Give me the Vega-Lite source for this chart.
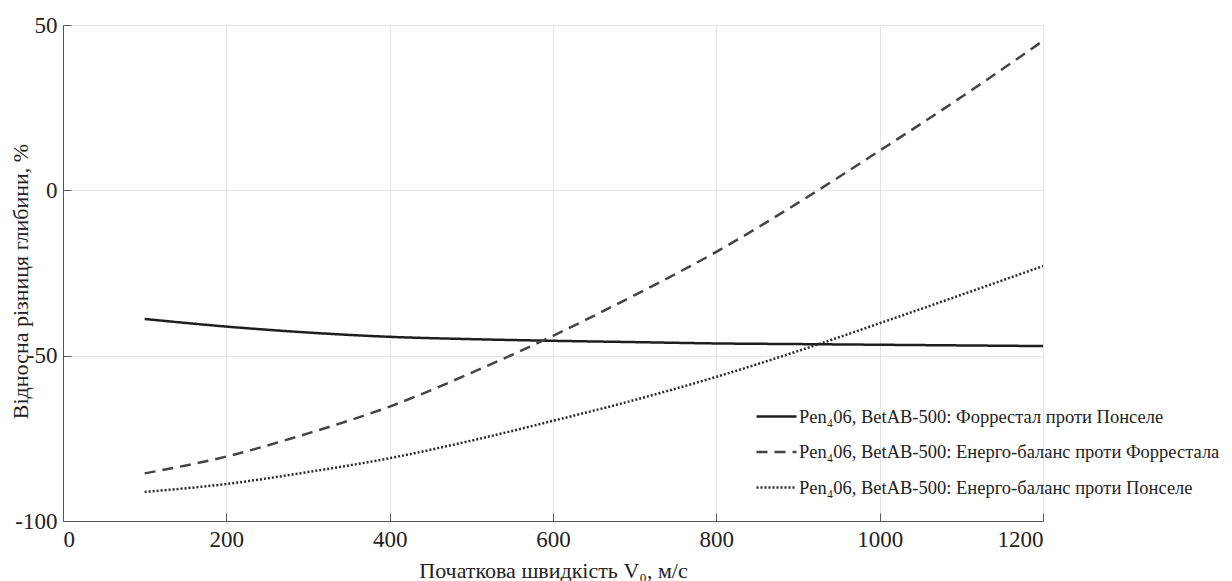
{
  "$schema": "https://vega.github.io/schema/vega-lite/v6.json",
  "width": 980,
  "height": 496,
  "autosize": {"type": "none"},
  "padding": {"left": 63, "top": 25, "right": 189, "bottom": 60},
  "background": "white",
  "config": {
    "view": {"stroke": null},
    "font": "Liberation Serif"
  },
  "data": {
    "values": [
      {"s": "Pen₄06, BetAB-500: Форрестал проти Понселе", "v": 100, "d": -38.9},
      {"s": "Pen₄06, BetAB-500: Форрестал проти Понселе", "v": 200, "d": -41.2},
      {"s": "Pen₄06, BetAB-500: Форрестал проти Понселе", "v": 300, "d": -43.0},
      {"s": "Pen₄06, BetAB-500: Форрестал проти Понселе", "v": 400, "d": -44.3},
      {"s": "Pen₄06, BetAB-500: Форрестал проти Понселе", "v": 500, "d": -45.0},
      {"s": "Pen₄06, BetAB-500: Форрестал проти Понселе", "v": 600, "d": -45.5},
      {"s": "Pen₄06, BetAB-500: Форрестал проти Понселе", "v": 700, "d": -45.9},
      {"s": "Pen₄06, BetAB-500: Форрестал проти Понселе", "v": 800, "d": -46.3},
      {"s": "Pen₄06, BetAB-500: Форрестал проти Понселе", "v": 900, "d": -46.5},
      {"s": "Pen₄06, BetAB-500: Форрестал проти Понселе", "v": 1000, "d": -46.7},
      {"s": "Pen₄06, BetAB-500: Форрестал проти Понселе", "v": 1100, "d": -46.9},
      {"s": "Pen₄06, BetAB-500: Форрестал проти Понселе", "v": 1200, "d": -47.1},
      {"s": "Pen₄06, BetAB-500: Енерго-баланс проти Форрестала", "v": 100, "d": -85.6},
      {"s": "Pen₄06, BetAB-500: Енерго-баланс проти Форрестала", "v": 200, "d": -80.5},
      {"s": "Pen₄06, BetAB-500: Енерго-баланс проти Форрестала", "v": 300, "d": -73.5},
      {"s": "Pen₄06, BetAB-500: Енерго-баланс проти Форрестала", "v": 400, "d": -65.4},
      {"s": "Pen₄06, BetAB-500: Енерго-баланс проти Форрестала", "v": 500, "d": -55.2},
      {"s": "Pen₄06, BetAB-500: Енерго-баланс проти Форрестала", "v": 600, "d": -44.0},
      {"s": "Pen₄06, BetAB-500: Енерго-баланс проти Форрестала", "v": 700, "d": -31.7},
      {"s": "Pen₄06, BetAB-500: Енерго-баланс проти Форрестала", "v": 800, "d": -18.6},
      {"s": "Pen₄06, BetAB-500: Енерго-баланс проти Форрестала", "v": 900, "d": -3.8},
      {"s": "Pen₄06, BetAB-500: Енерго-баланс проти Форрестала", "v": 1000, "d": 12.0},
      {"s": "Pen₄06, BetAB-500: Енерго-баланс проти Форрестала", "v": 1100, "d": 28.2},
      {"s": "Pen₄06, BetAB-500: Енерго-баланс проти Форрестала", "v": 1200, "d": 45.2},
      {"s": "Pen₄06, BetAB-500: Енерго-баланс проти Понселе", "v": 100, "d": -91.2},
      {"s": "Pen₄06, BetAB-500: Енерго-баланс проти Понселе", "v": 200, "d": -88.8},
      {"s": "Pen₄06, BetAB-500: Енерго-баланс проти Понселе", "v": 300, "d": -85.2},
      {"s": "Pen₄06, BetAB-500: Енерго-баланс проти Понселе", "v": 400, "d": -81.0},
      {"s": "Pen₄06, BetAB-500: Енерго-баланс проти Понселе", "v": 500, "d": -75.7},
      {"s": "Pen₄06, BetAB-500: Енерго-баланс проти Понселе", "v": 600, "d": -69.7},
      {"s": "Pen₄06, BetAB-500: Енерго-баланс проти Понселе", "v": 700, "d": -63.4},
      {"s": "Pen₄06, BetAB-500: Енерго-баланс проти Понселе", "v": 800, "d": -56.4},
      {"s": "Pen₄06, BetAB-500: Енерго-баланс проти Понселе", "v": 900, "d": -48.6},
      {"s": "Pen₄06, BetAB-500: Енерго-баланс проти Понселе", "v": 1000, "d": -40.2},
      {"s": "Pen₄06, BetAB-500: Енерго-баланс проти Понселе", "v": 1100, "d": -31.6},
      {"s": "Pen₄06, BetAB-500: Енерго-баланс проти Понселе", "v": 1200, "d": -22.9}
    ]
  },
  "mark": {"type": "line", "interpolate": "monotone", "strokeWidth": 2.5, "clip": true},
  "encoding": {
    "x": {
      "field": "v", "type": "quantitative",
      "scale": {"domain": [0, 1200], "nice": false, "zero": false},
      "axis": {
        "values": [0, 200, 400, 600, 800, 1000, 1200],
        "labelExpr": "toString(datum.value)",
        "title": "Початкова швидкість V₀, м/с",
        "titleFont": "Liberation Serif", "titleFontSize": 22, "titleFontWeight": "normal", "titleColor": "#222",
        "titleY": 49, "titleBaseline": "middle",
        "labelFont": "Liberation Serif", "labelFontSize": 23, "labelColor": "#222",
        "labelPadding": 15,
        "tickSize": -8, "tickColor": "#555", "domainColor": "#555",
        "gridColor": "#e3e3e3", "grid": true
      }
    },
    "y": {
      "field": "d", "type": "quantitative",
      "scale": {"domain": [-100, 50], "nice": false, "zero": false},
      "axis": {
        "values": [-100, -50, 0, 50],
        "labelExpr": "toString(datum.value)",
        "title": "Відносна різниця глибини, %",
        "titleFont": "Liberation Serif", "titleFontSize": 22, "titleFontWeight": "normal", "titleColor": "#222",
        "titleX": -43, "titleY": 256, "titleBaseline": "middle",
        "labelFont": "Liberation Serif", "labelFontSize": 23, "labelColor": "#222",
        "labelPadding": 14,
        "tickSize": -8, "tickColor": "#555", "domainColor": "#555",
        "gridColor": "#e3e3e3", "grid": true
      }
    },
    "color": {
      "field": "s", "type": "nominal",
      "scale": {
        "domain": ["Pen₄06, BetAB-500: Форрестал проти Понселе", "Pen₄06, BetAB-500: Енерго-баланс проти Форрестала", "Pen₄06, BetAB-500: Енерго-баланс проти Понселе"],
        "range": ["#1e1e1e", "#444444", "#2a2a2a"]
      },
      "legend": {
        "orient": "none", "legendX": 692, "legendY": 370,
        "title": null,
        "symbolType": "stroke", "symbolSize": 1600, "symbolStrokeWidth": 2.5,
        "labelFont": "Liberation Serif", "labelFontSize": 18.5, "labelColor": "#222",
        "labelOffset": 1, "rowPadding": 4.5,
        "labelLimit": 600
      }
    },
    "strokeDash": {
      "field": "s", "type": "nominal",
      "scale": {
        "domain": ["Pen₄06, BetAB-500: Форрестал проти Понселе", "Pen₄06, BetAB-500: Енерго-баланс проти Форрестала", "Pen₄06, BetAB-500: Енерго-баланс проти Понселе"],
        "range": [[1, 0], [11, 7], [2, 2]]
      },
      "legend": null
    }
  }
}
